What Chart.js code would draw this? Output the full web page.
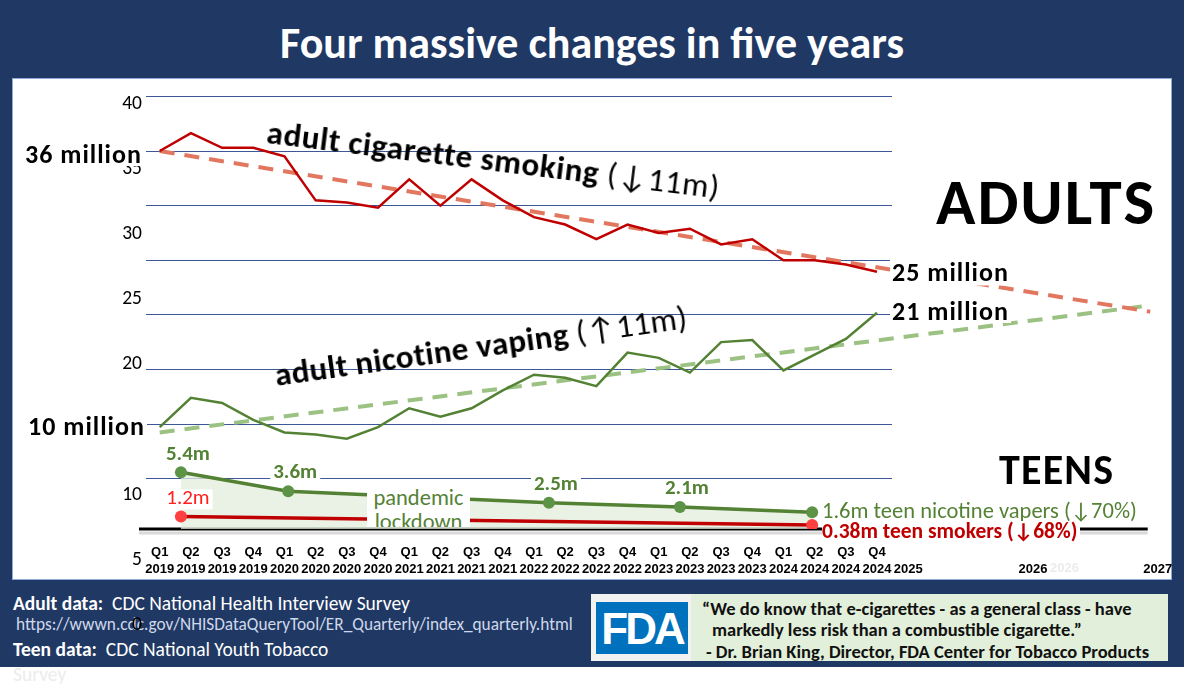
<!DOCTYPE html>
<html><head><meta charset="utf-8">
<script src="https://cdn.jsdelivr.net/npm/chart.js@4.4.1/dist/chart.umd.min.js"></script>
<style>
html,body{margin:0;padding:0;background:#fff;}
body{width:1200px;height:697px;position:relative;overflow:hidden;font-family:Carlito,Lato,sans-serif;}
#frame{position:absolute;left:0;top:0;width:1184px;height:667px;background:#203864;}
#panel{position:absolute;left:12px;top:78px;width:1158px;height:500px;background:#fff;border:1px solid #8fa9d6;}
#title{position:absolute;left:0;top:0;width:1184px;height:78px;line-height:86px;text-align:center;color:#fff;font-weight:700;font-size:44px;}
canvas{position:absolute;left:0;top:0;z-index:2;}
.ov{position:absolute;z-index:3;white-space:nowrap;line-height:1;}
.lc{transform:translateY(-50%);}
.big{font-weight:700;color:#000;}
.mil{font-size:26px;letter-spacing:1px;padding:0 2px;height:24px;line-height:24px;}
.wb{background:#fff;}
.ft{position:absolute;z-index:1;white-space:nowrap;color:#fff;font-size:19.5px;line-height:1;transform:translateY(-50%);}
#fda{position:absolute;left:591px;top:594px;width:577px;height:67px;background:#e2efda;z-index:1;}
#fdaleft{position:absolute;left:0;top:0;width:100px;height:67px;background:#f2f2f2;}
#logo{position:absolute;left:5px;top:8px;width:92px;height:52px;background:#0071bc;color:#fff;font-family:'Liberation Sans',Arial,sans-serif;font-weight:700;font-size:44px;line-height:54px;text-align:center;letter-spacing:-3px;}
.q{position:absolute;white-space:nowrap;font-weight:700;font-size:18.5px;color:#111;line-height:1;transform:translateY(-50%);}
</style></head>
<body>
<div id="frame"></div>
<div id="panel"></div>
<div id="title">Four massive changes in five years</div>

<div class="ft" style="left:13px;top:604px;"><b>Adult data:</b>&nbsp; CDC National Health Interview Survey</div>
<div class="ft" style="left:16px;top:625px;font-size:17.3px;color:#cfd8ea;">https://wwwn.cdc.gov/NHISDataQueryTool/ER_Quarterly/index_quarterly.html</div>
<div class="ft" style="left:13px;top:650px;"><b>Teen data:</b>&nbsp; CDC National Youth Tobacco</div>
<div class="ft" style="left:13px;top:675px;color:#ececec;">Survey</div>
<div id="fda"><div id="fdaleft"></div><div id="logo">FDA</div>
<div class="q" style="left:111px;top:15px;">“We do know that e-cigarettes - as a general class - have</div>
<div class="q" style="left:121px;top:36px;">markedly less risk than a combustible cigarette.”</div>
<div class="q" style="left:115px;top:58px;">- Dr. Brian King, Director, FDA Center for Tobacco Products</div>
</div>

<canvas id="c" width="1200" height="697"></canvas>

<div class="ov lc big wb mil" style="left:23px;top:154px;">36 million</div>
<div class="ov lc big wb mil" style="left:26px;top:426px;height:28px;line-height:28px;">10 million</div>
<div class="ov lc big wb mil" style="left:890px;top:272px;height:27px;line-height:27px;">25 million</div>
<div class="ov lc big wb mil" style="left:890px;top:310.5px;">21 million</div>
<div class="ov" style="left:267px;top:116px;font-size:33px;letter-spacing:0.6px;color:#000;transform:rotate(7deg);transform-origin:0 50%;"><b>adult cigarette smoking</b> (↓11m)</div>
<div class="ov" style="left:275px;top:359px;font-size:33px;letter-spacing:0.4px;color:#000;transform:rotate(-8deg);transform-origin:0 50%;"><b>adult nicotine vaping</b> (↑11m)</div>
<div class="ov big" style="left:936px;top:169px;font-size:65px;letter-spacing:2px;">ADULTS</div>
<div class="ov big" style="left:999px;top:449px;font-size:42px;letter-spacing:1.2px;">TEENS</div>
<div class="ov lc" style="left:822px;top:511px;font-size:22.5px;color:#548235;">1.6m teen nicotine vapers (↓70%)</div>
<div class="ov lc wb" style="left:822px;top:531px;font-size:21.5px;color:#c00000;font-weight:700;padding-right:3px;height:20px;line-height:20px;">0.38m teen smokers (↓68%)</div>
<div class="ov wb" style="left:367px;top:486px;width:103px;height:41px;overflow:hidden;text-align:center;color:#548235;font-size:22.5px;line-height:24px;">pandemic<br>lockdown</div>
<div class="ov lc" style="left:1050px;top:567px;font-size:13px;font-weight:700;color:#ececec;font-family:'Liberation Sans',Arial,sans-serif;">2026</div>

<script>
// ---- data (millions) ----
const quarterLabels = ['Q1 2019','Q2 2019','Q3 2019','Q4 2019','Q1 2020','Q2 2020','Q3 2020','Q4 2020',
  'Q1 2021','Q2 2021','Q3 2021','Q4 2021','Q1 2022','Q2 2022','Q3 2022','Q4 2022',
  'Q1 2023','Q2 2023','Q3 2023','Q4 2023','Q1 2024','Q2 2024','Q3 2024','Q4 2024'];
const extraYearTicks = [2025, 2026, 2027];
const adultSmokers = [36.0, 37.7, 36.3, 36.3, 35.5, 31.3, 31.1, 30.6, 33.3, 30.8, 33.3, 31.3,
  29.7, 29.0, 27.6, 29.0, 28.2, 28.6, 27.1, 27.6, 25.6, 25.6, 25.2, 24.5];
const adultVapers = [9.7, 12.5, 12.0, 10.4, 9.2, 9.0, 8.6, 9.7, 11.5, 10.7, 11.5, 13.2,
  14.7, 14.4, 13.6, 16.8, 16.3, 14.9, 17.8, 18.0, 15.1, 16.6, 18.1, 20.6];
const trendTimes = [2019.0, 2026.94];
const smokingTrend = [36.0, 20.7];
const vapingTrend = [9.2, 21.3];
const teenSurveyTimes = [2019.17, 2020.03, 2022.12, 2023.17, 2024.23];
const teenVapers = [5.4, 3.6, 2.5, 2.1, 1.6];
const teenVaperLabels = ['5.4m', '3.6m', '2.5m', '2.1m', ''];
const teenSmokerTimes = [2019.17, 2024.23];
const teenSmokers = [1.2, 0.38];
const teenSmokerLabels = ['1.2m', ''];
const yTickLabels = [0, 5, 10, 15, 20, 25, 30, 35, 40];
const gridLevels = [41.2, 36.0, 30.8, 25.6, 20.4, 15.2, 10.0, 4.8];
const baselineEnd = 2026.92;

const quarterTimes = quarterLabels.map(l => { const [q, y] = l.split(' '); return +y + (+q[1] - 1) / 4; });
const xTickValues = quarterTimes.concat(extraYearTicks);
const xTickText = quarterLabels.map(l => l.split(' ')).concat(extraYearTicks.map(y => ['', String(y)]));
const pts = (xs, ys) => ys.map((v, i) => ({x: xs[i], y: v}));

const annotate = {
  id: 'annotate',
  beforeDatasetsDraw(chart) {
    const {ctx, scales: {x, y}} = chart;
    const y0 = Math.round(y.getPixelForValue(0));
    const xs = x.getPixelForValue(x.min) - 7, xe = x.getPixelForValue(baselineEnd);
    ctx.save();
    ctx.lineWidth = 3;
    ctx.strokeStyle = '#d9d9d9';
    ctx.beginPath(); ctx.moveTo(xs, y0 + 4); ctx.lineTo(xe, y0 + 4); ctx.stroke();
    ctx.strokeStyle = '#000';
    ctx.beginPath(); ctx.moveTo(xs, y0); ctx.lineTo(xe, y0); ctx.stroke();
    ctx.restore();
  },
  afterDatasetsDraw(chart) {
    const ctx = chart.ctx;
    chart.data.datasets.forEach((ds, di) => {
      if (!ds.valueLabels) return;
      const meta = chart.getDatasetMeta(di);
      meta.data.forEach((pt, i) => {
        const t = ds.valueLabels[i]; if (!t) return;
        ctx.save();
        ctx.font = ds.labelFont;
        const w = ctx.measureText(t).width;
        const cx = pt.x + 7, cy = pt.y - 18;
        ctx.fillStyle = '#fff';
        ctx.fillRect(cx - w / 2 - 3, cy - 9, w + 6, 20);
        ctx.fillStyle = ds.labelColor; ctx.textAlign = 'center'; ctx.textBaseline = 'middle';
        ctx.fillText(t, cx, cy);
        ctx.restore();
      });
    });
  }
};

Chart.defaults.font.family = 'Carlito, Lato, sans-serif';
new Chart(document.getElementById('c'), {
  type: 'line',
  data: {
    datasets: [
      {label: 'smoking trend', data: pts(trendTimes, smokingTrend), borderColor: '#e2775f', borderWidth: 4,
       borderDash: [15, 10], pointRadius: 0, clip: false, order: 5, yAxisID: 'y'},
      {label: 'vaping trend', data: pts(trendTimes, vapingTrend), borderColor: '#9cc283', borderWidth: 4,
       borderDash: [15, 10], pointRadius: 0, clip: false, order: 5, yAxisID: 'y'},
      {label: 'adult smokers', data: pts(quarterTimes, adultSmokers), borderColor: '#c00000', borderWidth: 2.5,
       pointRadius: 0, order: 3, yAxisID: 'y'},
      {label: 'adult vapers', data: pts(quarterTimes, adultVapers), borderColor: '#548235', borderWidth: 2.5,
       pointRadius: 0, order: 3, yAxisID: 'y'},
      {label: 'teen vapers', data: pts(teenSurveyTimes, teenVapers), borderColor: '#548235', borderWidth: 3.5,
       pointRadius: 6, pointBackgroundColor: '#5c9347', pointBorderWidth: 0, fill: 'origin',
       backgroundColor: 'rgba(226,238,220,0.75)', order: 2, yAxisID: 'y',
       valueLabels: teenVaperLabels, labelFont: 'bold 21px Carlito, Lato, sans-serif', labelColor: '#548235'},
      {label: 'teen smokers', data: pts(teenSmokerTimes, teenSmokers), borderColor: '#c00000', borderWidth: 3.5,
       pointRadius: 6, pointBackgroundColor: '#ff4040', pointBorderWidth: 0, order: 1, yAxisID: 'y',
       valueLabels: teenSmokerLabels, labelFont: '21px Carlito, Lato, sans-serif', labelColor: '#ff2020'}
    ]
  },
  options: {
    responsive: false, animation: false, devicePixelRatio: 1,
    layout: {padding: {left: 0, top: 96, right: 308, bottom: 0}},
    plugins: {legend: {display: false}, tooltip: {enabled: false}},
    elements: {line: {tension: 0}},
    scales: {
      x: {type: 'linear', position: 'bottom', min: 2018.89, max: 2024.87, bounds: 'data',
        afterFit: s => { s.height = 168; },
        afterBuildTicks: s => { s.ticks = xTickValues.map(v => ({value: v})); },
        grid: {display: false, drawTicks: false}, border: {display: false},
        ticks: {autoSkip: false, maxRotation: 0, minRotation: 0, padding: 15.5, color: '#000',
          font: {family: "'Liberation Sans', Arial, sans-serif", weight: 'bold', size: 13, lineHeight: 1.27},
          callback: v => { const i = xTickValues.findIndex(t => Math.abs(t - v) < 1e-6); return i < 0 ? '' : xTickText[i]; }}
      },
      y: {type: 'linear', position: 'left', min: 0, max: 41.24, bounds: 'data',
        afterFit: s => { s.width = 0; },
        afterBuildTicks: s => { s.ticks = gridLevels.map(v => ({value: v})); },
        grid: {color: '#3d5896', lineWidth: 1, drawTicks: false}, border: {display: false},
        ticks: {display: false}
      },
      yl: {type: 'linear', position: 'left', min: 7.37, max: 40.614, bounds: 'data',
        afterFit: s => { s.width = 146; },
        afterBuildTicks: s => { s.ticks = yTickLabels.map(v => ({value: v})); },
        grid: {display: false, drawTicks: false}, border: {display: false},
        ticks: {autoSkip: false, padding: 4, color: '#000', font: {size: 19.5}}
      }
    }
  },
  plugins: [annotate]
});
</script>
</body></html>
